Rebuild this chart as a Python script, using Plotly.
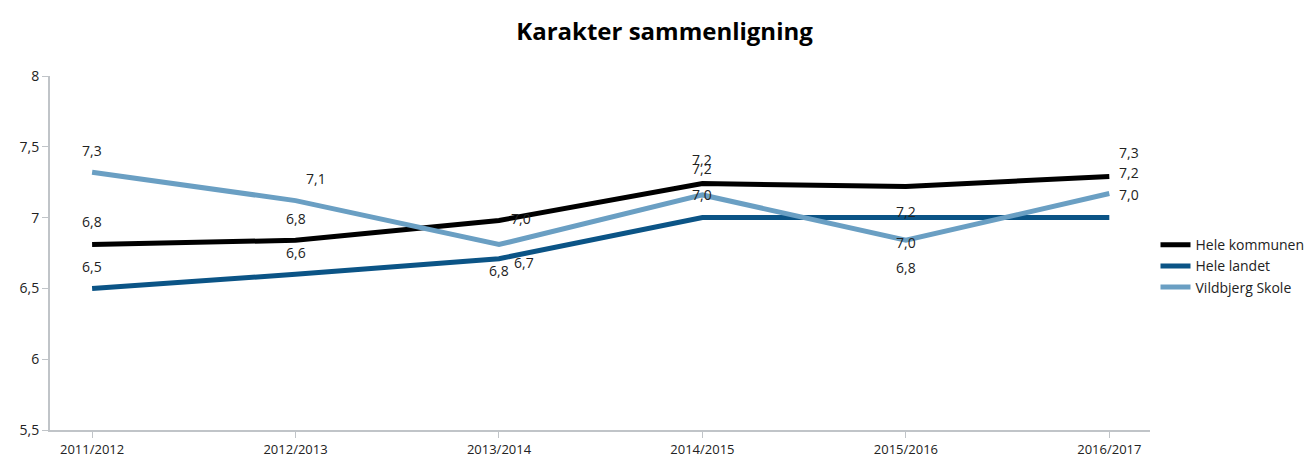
import plotly.graph_objects as go

categories = ["2011/2012", "2012/2013", "2013/2014", "2014/2015", "2015/2016", "2016/2017"]
series_names = ["Hele kommunen", "Hele landet", "Vildbjerg Skole"]
kommunen = [6.81, 6.84, 6.98, 7.24, 7.22, 7.29]
landet = [6.50, 6.60, 6.71, 7.00, 7.00, 7.00]
vildbjerg = [7.32, 7.12, 6.81, 7.16, 6.84, 7.17]
y_ticks = [5.5, 6, 6.5, 7, 7.5, 8]

colors = ["#000000", "#0b5486", "#6a9fc3"]
values = [kommunen, landet, vildbjerg]

# label offsets (xshift, yshift) in pixels per series per point
offsets = [
    [(0, 23), (0, 22), (22, 2), (0, 24), (0, -25), (20, 24)],
    [(0, 22), (0, 22), (25, -4), (0, 23), (0, -25), (20, 23)],
    [(0, 22), (20, 22), (0, -26), (0, 26), (0, -27), (20, 21)],
]

FONT = "Open Sans"

fig = go.Figure()
for name, vals, col in zip(series_names, values, colors):
    fig.add_trace(go.Scatter(
        x=categories, y=vals, mode="lines", name=name,
        line=dict(color=col, width=5),
    ))

annotations = []
for vals, offs in zip(values, offsets):
    for c, v, (dx, dy) in zip(categories, vals, offs):
        annotations.append(dict(
            x=c, y=v, text=f"{v:.1f}".replace(".", ","), showarrow=False,
            xshift=dx, yshift=dy, font=dict(family=FONT, size=14, color="#222"),
        ))

fig.update_layout(
    width=1313, height=459,
    margin=dict(l=42, r=166, t=68, b=37),
    paper_bgcolor="white", plot_bgcolor="white",
    separators=",.",
    title=dict(text="<b>Karakter sammenligning</b>", x=0.5, xanchor="center",
               y=0.948, yanchor="middle", automargin=False,
               font=dict(family=FONT, size=24, color="#000")),
    font=dict(family=FONT, size=13, color="#222"),
    showlegend=True,
    legend=dict(x=1.005, y=0.463, xanchor="left", yanchor="middle",
                font=dict(family=FONT, size=14, color="#222"),
                tracegroupgap=0, itemwidth=30),
    annotations=annotations,
)
fig.update_xaxes(
    type="category", range=[-0.207, 5.2], showgrid=False, automargin=False,
    showline=True, linecolor="#c0c4c8", linewidth=2,
    ticks="outside", ticklen=6, tickcolor="#c0c4c8", tickwidth=1,
    tickfont=dict(family=FONT, size=13, color="#222"),
)
fig.update_yaxes(
    range=[5.5, 8], tickvals=y_ticks, showgrid=False, zeroline=False, automargin=False,
    showline=True, linecolor="#c0c4c8", linewidth=2,
    ticks="outside", ticklen=6, tickcolor="#c0c4c8", tickwidth=1,
    tickfont=dict(family=FONT, size=14, color="#222"),
)

fig.write_html("out.html")
